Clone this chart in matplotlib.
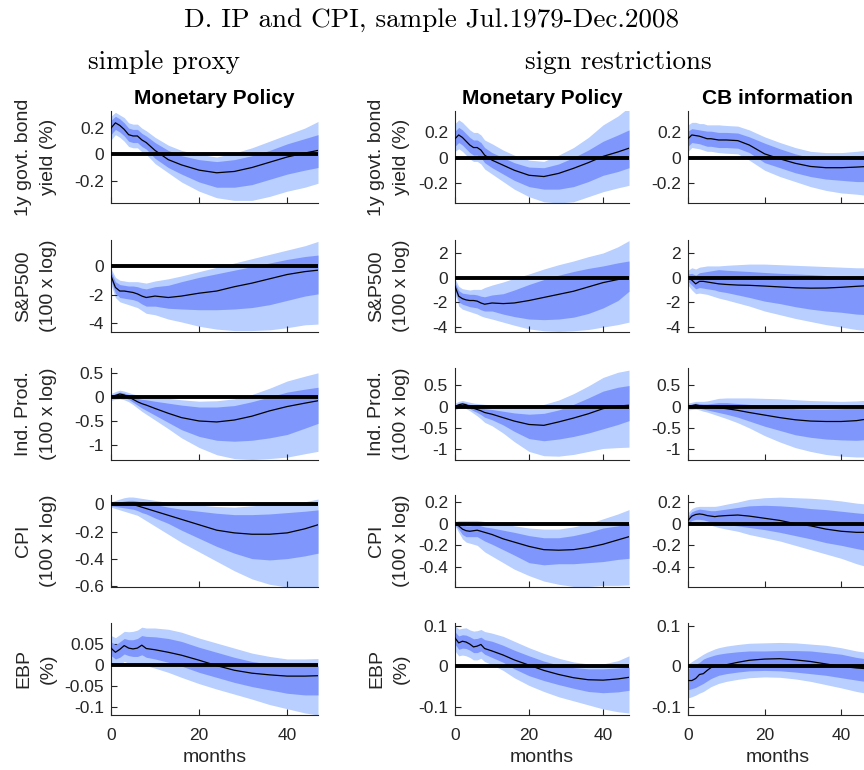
import numpy as np
import matplotlib.pyplot as plt
from matplotlib.ticker import FuncFormatter

plt.rcParams['font.family'] = ['Liberation Sans', 'DejaVu Sans']
plt.rcParams['axes.unicode_minus'] = False

months = [0, 1, 2, 3, 4, 5, 6, 7, 8, 10, 13, 16, 20, 24, 28, 32, 36, 40, 44, 47]

# ---------------- simple proxy: monetary policy ----------------
p_yld_med = [0.20, 0.24, 0.22, 0.19, 0.15, 0.14, 0.14, 0.11, 0.09, 0.03, -0.04, -0.08, -0.12, -0.14, -0.13, -0.10, -0.06, -0.02, 0.01, 0.03]
p_yld_hi68 = [0.26, 0.29, 0.27, 0.24, 0.20, 0.19, 0.19, 0.16, 0.14, 0.09, 0.03, -0.01, -0.04, -0.055, -0.04, -0.01, 0.03, 0.08, 0.12, 0.15]
p_yld_lo68 = [0.15, 0.19, 0.17, 0.14, 0.10, 0.09, 0.09, 0.06, 0.04, -0.03, -0.10, -0.15, -0.21, -0.25, -0.25, -0.23, -0.19, -0.15, -0.12, -0.10]
p_yld_hi90 = [0.29, 0.32, 0.30, 0.28, 0.24, 0.23, 0.23, 0.20, 0.18, 0.13, 0.07, 0.03, 0.0, -0.02, 0.01, 0.05, 0.10, 0.15, 0.20, 0.25]
p_yld_lo90 = [0.11, 0.15, 0.13, 0.10, 0.06, 0.05, 0.05, 0.02, 0.0, -0.07, -0.14, -0.21, -0.28, -0.33, -0.35, -0.35, -0.32, -0.28, -0.25, -0.22]

p_sp_med = [-0.7, -1.5, -1.75, -1.75, -1.8, -1.85, -1.95, -2.1, -2.2, -2.1, -2.2, -2.1, -1.9, -1.75, -1.45, -1.2, -0.9, -0.6, -0.4, -0.3]
p_sp_hi68 = [-0.4, -1.1, -1.3, -1.35, -1.4, -1.4, -1.45, -1.55, -1.6, -1.45, -1.35, -1.1, -0.8, -0.55, -0.3, -0.05, 0.2, 0.45, 0.65, 0.75]
p_sp_lo68 = [-1.0, -1.9, -2.2, -2.25, -2.3, -2.35, -2.45, -2.65, -2.8, -2.8, -2.95, -3.0, -3.05, -3.05, -3.0, -2.9, -2.7, -2.4, -2.1, -1.95]
p_sp_hi90 = [-0.2, -0.8, -1.0, -1.05, -1.1, -1.1, -1.1, -1.15, -1.2, -1.05, -0.9, -0.7, -0.4, -0.1, 0.2, 0.5, 0.8, 1.1, 1.4, 1.7]
p_sp_lo90 = [-1.3, -2.2, -2.5, -2.6, -2.7, -2.8, -2.9, -3.1, -3.3, -3.4, -3.7, -3.9, -4.2, -4.4, -4.5, -4.5, -4.45, -4.3, -4.1, -4.05]

p_ip_med = [0.0, 0.03, 0.06, 0.04, 0.0, -0.05, -0.1, -0.14, -0.17, -0.24, -0.34, -0.43, -0.50, -0.52, -0.48, -0.40, -0.29, -0.20, -0.13, -0.08]
p_ip_hi68 = [0.03, 0.07, 0.10, 0.08, 0.05, 0.01, -0.03, -0.05, -0.06, -0.09, -0.13, -0.17, -0.21, -0.21, -0.18, -0.10, 0.0, 0.10, 0.16, 0.20]
p_ip_lo68 = [-0.03, -0.01, 0.01, -0.01, -0.05, -0.11, -0.17, -0.23, -0.28, -0.38, -0.53, -0.68, -0.82, -0.90, -0.92, -0.90, -0.85, -0.78, -0.65, -0.55]
p_ip_hi90 = [0.07, 0.11, 0.14, 0.12, 0.09, 0.06, 0.04, 0.03, 0.02, 0.0, -0.03, -0.06, -0.09, -0.08, -0.04, 0.05, 0.18, 0.33, 0.43, 0.50]
p_ip_lo90 = [-0.07, -0.05, -0.04, -0.06, -0.10, -0.16, -0.23, -0.30, -0.36, -0.48, -0.66, -0.85, -1.05, -1.20, -1.28, -1.30, -1.28, -1.25, -1.18, -1.13]

p_cpi_med = [0.0, 0.0, 0.0, 0.0, 0.0, 0.0, -0.01, -0.02, -0.03, -0.05, -0.08, -0.11, -0.15, -0.19, -0.21, -0.22, -0.22, -0.21, -0.18, -0.15]
p_cpi_hi68 = [0.01, 0.015, 0.02, 0.025, 0.03, 0.03, 0.025, 0.02, 0.01, 0.0, -0.02, -0.035, -0.05, -0.065, -0.075, -0.075, -0.07, -0.06, -0.05, -0.04]
p_cpi_lo68 = [-0.01, -0.015, -0.02, -0.025, -0.03, -0.035, -0.045, -0.06, -0.07, -0.10, -0.14, -0.19, -0.25, -0.31, -0.36, -0.40, -0.41, -0.40, -0.38, -0.36]
p_cpi_hi90 = [0.02, 0.03, 0.04, 0.05, 0.055, 0.055, 0.05, 0.045, 0.04, 0.03, 0.015, 0.005, -0.005, -0.015, -0.02, -0.01, 0.0, 0.005, 0.02, 0.04]
p_cpi_lo90 = [-0.02, -0.03, -0.04, -0.05, -0.06, -0.07, -0.08, -0.10, -0.12, -0.16, -0.22, -0.28, -0.35, -0.42, -0.49, -0.55, -0.59, -0.61, -0.62, -0.62]

p_ebp_med = [0.040, 0.030, 0.037, 0.046, 0.040, 0.038, 0.040, 0.047, 0.039, 0.036, 0.030, 0.023, 0.011, -0.002, -0.013, -0.020, -0.024, -0.027, -0.027, -0.026]
p_ebp_hi68 = [0.055, 0.048, 0.055, 0.063, 0.060, 0.060, 0.063, 0.070, 0.068, 0.067, 0.063, 0.056, 0.042, 0.030, 0.018, 0.008, 0.002, -0.002, -0.003, -0.003]
p_ebp_lo68 = [0.022, 0.014, 0.018, 0.026, 0.022, 0.020, 0.020, 0.024, 0.018, 0.014, 0.006, -0.003, -0.018, -0.030, -0.042, -0.052, -0.060, -0.068, -0.072, -0.072]
p_ebp_hi90 = [0.070, 0.065, 0.072, 0.080, 0.079, 0.080, 0.083, 0.090, 0.088, 0.088, 0.085, 0.078, 0.064, 0.052, 0.040, 0.028, 0.020, 0.014, 0.014, 0.015]
p_ebp_lo90 = [0.005, -0.003, 0.000, 0.008, 0.004, 0.002, 0.000, 0.004, -0.002, -0.008, -0.018, -0.030, -0.045, -0.058, -0.070, -0.082, -0.095, -0.105, -0.115, -0.120]

# ---------------- sign restrictions: monetary policy ----------------
m_yld_med = [0.15, 0.18, 0.16, 0.13, 0.10, 0.08, 0.08, 0.06, 0.02, -0.02, -0.06, -0.10, -0.14, -0.15, -0.125, -0.085, -0.04, 0.01, 0.045, 0.075]
m_yld_hi68 = [0.21, 0.24, 0.22, 0.19, 0.16, 0.14, 0.14, 0.12, 0.08, 0.04, 0.0, -0.04, -0.075, -0.08, -0.05, 0.0, 0.06, 0.13, 0.18, 0.22]
m_yld_lo68 = [0.09, 0.12, 0.10, 0.07, 0.04, 0.02, 0.02, 0.0, -0.04, -0.08, -0.13, -0.18, -0.23, -0.25, -0.25, -0.23, -0.19, -0.14, -0.11, -0.08]
m_yld_hi90 = [0.27, 0.30, 0.28, 0.25, 0.22, 0.20, 0.20, 0.18, 0.14, 0.11, 0.06, 0.02, -0.02, -0.03, 0.02, 0.08, 0.16, 0.26, 0.33, 0.40]
m_yld_lo90 = [0.05, 0.07, 0.05, 0.02, -0.01, -0.03, -0.03, -0.05, -0.09, -0.13, -0.19, -0.25, -0.31, -0.35, -0.36, -0.35, -0.31, -0.27, -0.24, -0.22]

m_sp_med = [-0.7, -1.5, -1.7, -1.8, -1.85, -1.85, -1.9, -2.05, -2.15, -2.05, -2.1, -2.05, -1.85, -1.6, -1.35, -1.1, -0.75, -0.4, -0.15, 0.0]
m_sp_hi68 = [-0.4, -1.05, -1.25, -1.3, -1.35, -1.35, -1.4, -1.5, -1.55, -1.4, -1.3, -1.0, -0.55, -0.15, 0.2, 0.5, 0.75, 0.95, 1.2, 1.35]
m_sp_lo68 = [-1.0, -1.95, -2.15, -2.25, -2.35, -2.4, -2.45, -2.6, -2.7, -2.7, -2.95, -3.15, -3.35, -3.4, -3.35, -3.2, -2.9, -2.45, -1.85, -1.1]
m_sp_hi90 = [-0.1, -0.7, -0.9, -0.95, -1.0, -0.95, -0.95, -0.95, -0.8, -0.6, -0.35, -0.05, 0.3, 0.7, 1.05, 1.35, 1.7, 2.0, 2.5, 3.0]
m_sp_lo90 = [-1.3, -2.3, -2.55, -2.65, -2.75, -2.85, -2.95, -3.1, -3.2, -3.35, -3.6, -3.85, -4.15, -4.3, -4.35, -4.3, -4.2, -4.0, -3.8, -3.6]

m_ip_med = [0.0, 0.04, 0.06, 0.04, 0.0, -0.04, -0.07, -0.10, -0.14, -0.18, -0.26, -0.34, -0.42, -0.44, -0.36, -0.27, -0.17, -0.05, 0.01, 0.03]
m_ip_hi68 = [0.04, 0.08, 0.10, 0.08, 0.05, 0.02, -0.01, -0.03, -0.05, -0.07, -0.11, -0.15, -0.18, -0.16, -0.08, 0.05, 0.20, 0.36, 0.45, 0.49]
m_ip_lo68 = [-0.04, 0.0, 0.02, 0.0, -0.05, -0.10, -0.14, -0.19, -0.25, -0.31, -0.43, -0.58, -0.75, -0.80, -0.76, -0.70, -0.62, -0.52, -0.42, -0.33]
m_ip_hi90 = [0.08, 0.12, 0.14, 0.12, 0.10, 0.08, 0.07, 0.06, 0.05, 0.04, 0.03, 0.02, 0.0, 0.05, 0.15, 0.30, 0.48, 0.68, 0.80, 0.85]
m_ip_lo90 = [-0.08, -0.04, -0.02, -0.05, -0.10, -0.16, -0.22, -0.29, -0.37, -0.45, -0.62, -0.82, -1.05, -1.15, -1.16, -1.12, -1.05, -0.98, -0.96, -0.95]

m_cpi_med = [0.0, -0.02, -0.05, -0.065, -0.07, -0.065, -0.06, -0.07, -0.08, -0.10, -0.14, -0.17, -0.21, -0.24, -0.245, -0.24, -0.22, -0.19, -0.15, -0.12]
m_cpi_hi68 = [0.01, 0.0, -0.01, -0.02, -0.02, -0.015, -0.01, -0.02, -0.03, -0.04, -0.06, -0.08, -0.11, -0.13, -0.13, -0.11, -0.08, -0.04, -0.02, 0.0]
m_cpi_lo68 = [-0.01, -0.05, -0.10, -0.12, -0.12, -0.12, -0.12, -0.14, -0.16, -0.19, -0.24, -0.29, -0.36, -0.38, -0.37, -0.37, -0.36, -0.35, -0.33, -0.32]
m_cpi_hi90 = [0.02, 0.03, 0.03, 0.03, 0.03, 0.03, 0.03, 0.025, 0.02, 0.015, 0.0, -0.02, -0.04, -0.05, -0.05, -0.03, 0.0, 0.045, 0.09, 0.13]
m_cpi_lo90 = [-0.02, -0.08, -0.14, -0.17, -0.18, -0.19, -0.20, -0.23, -0.26, -0.30, -0.36, -0.42, -0.48, -0.53, -0.56, -0.58, -0.58, -0.57, -0.57, -0.565]

m_ebp_med = [0.070, 0.058, 0.062, 0.060, 0.055, 0.048, 0.050, 0.054, 0.044, 0.038, 0.028, 0.016, 0.003, -0.010, -0.020, -0.028, -0.033, -0.034, -0.031, -0.027]
m_ebp_hi68 = [0.085, 0.075, 0.078, 0.077, 0.073, 0.068, 0.069, 0.072, 0.066, 0.062, 0.052, 0.040, 0.026, 0.013, 0.003, -0.003, -0.006, -0.006, -0.004, -0.002]
m_ebp_lo68 = [0.055, 0.042, 0.045, 0.044, 0.040, 0.034, 0.034, 0.038, 0.030, 0.022, 0.010, -0.006, -0.023, -0.035, -0.045, -0.054, -0.062, -0.065, -0.063, -0.059]
m_ebp_hi90 = [0.100, 0.092, 0.094, 0.095, 0.090, 0.087, 0.088, 0.091, 0.086, 0.082, 0.074, 0.062, 0.046, 0.032, 0.020, 0.011, 0.006, 0.006, 0.014, 0.026]
m_ebp_lo90 = [0.038, 0.026, 0.028, 0.026, 0.022, 0.016, 0.016, 0.020, 0.012, 0.004, -0.010, -0.028, -0.047, -0.062, -0.075, -0.085, -0.095, -0.105, -0.112, -0.115]

# ---------------- sign restrictions: CB information ----------------
c_yld_med = [0.15, 0.18, 0.175, 0.17, 0.16, 0.15, 0.15, 0.145, 0.14, 0.14, 0.135, 0.10, 0.03, -0.01, -0.045, -0.07, -0.08, -0.08, -0.075, -0.07]
c_yld_hi68 = [0.21, 0.23, 0.225, 0.22, 0.215, 0.21, 0.21, 0.205, 0.20, 0.20, 0.195, 0.165, 0.115, 0.07, 0.03, 0.0, -0.01, -0.005, 0.01, 0.015]
c_yld_lo68 = [0.09, 0.12, 0.115, 0.11, 0.10, 0.09, 0.09, 0.085, 0.08, 0.08, 0.075, 0.04, -0.04, -0.08, -0.12, -0.15, -0.17, -0.18, -0.19, -0.19]
c_yld_hi90 = [0.26, 0.28, 0.28, 0.27, 0.27, 0.26, 0.26, 0.26, 0.26, 0.255, 0.25, 0.22, 0.165, 0.12, 0.08, 0.05, 0.04, 0.04, 0.05, 0.06]
c_yld_lo90 = [0.05, 0.08, 0.075, 0.07, 0.06, 0.05, 0.05, 0.045, 0.04, 0.035, 0.03, -0.02, -0.10, -0.15, -0.19, -0.23, -0.26, -0.28, -0.29, -0.30]

c_sp_med = [0.0, -0.2, -0.5, -0.3, -0.3, -0.35, -0.4, -0.45, -0.5, -0.55, -0.6, -0.62, -0.68, -0.75, -0.82, -0.85, -0.84, -0.78, -0.7, -0.65]
c_sp_hi68 = [0.3, 0.35, 0.2, 0.4, 0.45, 0.5, 0.55, 0.6, 0.65, 0.6, 0.55, 0.5, 0.42, 0.35, 0.3, 0.25, 0.18, 0.1, 0.03, 0.0]
c_sp_lo68 = [-0.3, -0.6, -0.9, -0.8, -0.85, -0.9, -0.95, -1.0, -1.1, -1.2, -1.4, -1.6, -1.9, -2.1, -2.35, -2.55, -2.7, -2.8, -2.95, -3.0]
c_sp_hi90 = [0.6, 0.8, 0.7, 0.85, 0.9, 0.95, 0.95, 0.95, 0.95, 1.0, 1.05, 1.1, 1.1, 1.05, 1.0, 0.95, 0.9, 0.85, 0.8, 0.8]
c_sp_lo90 = [-0.6, -1.0, -1.3, -1.25, -1.3, -1.35, -1.45, -1.55, -1.65, -1.8, -2.05, -2.3, -2.7, -3.0, -3.3, -3.55, -3.8, -4.0, -4.2, -4.3]

c_ip_med = [0.0, 0.02, 0.04, 0.02, 0.0, -0.01, -0.02, -0.02, -0.03, -0.05, -0.09, -0.14, -0.20, -0.26, -0.31, -0.34, -0.35, -0.35, -0.33, -0.29]
c_ip_hi68 = [0.04, 0.06, 0.08, 0.07, 0.06, 0.06, 0.07, 0.08, 0.09, 0.09, 0.07, 0.05, 0.015, -0.02, -0.05, -0.06, -0.06, -0.05, -0.03, -0.02]
c_ip_lo68 = [-0.04, -0.03, -0.02, -0.04, -0.06, -0.08, -0.10, -0.12, -0.14, -0.18, -0.25, -0.34, -0.46, -0.56, -0.66, -0.72, -0.76, -0.78, -0.79, -0.77]
c_ip_hi90 = [0.08, 0.10, 0.12, 0.12, 0.12, 0.13, 0.15, 0.17, 0.19, 0.20, 0.20, 0.20, 0.19, 0.18, 0.16, 0.14, 0.13, 0.12, 0.13, 0.15]
c_ip_lo90 = [-0.08, -0.07, -0.06, -0.08, -0.11, -0.13, -0.16, -0.19, -0.22, -0.28, -0.38, -0.50, -0.68, -0.83, -0.96, -1.05, -1.12, -1.16, -1.18, -1.18]

c_cpi_med = [0.03, 0.07, 0.085, 0.09, 0.085, 0.075, 0.07, 0.065, 0.07, 0.075, 0.08, 0.07, 0.05, 0.03, 0.0, -0.02, -0.05, -0.07, -0.08, -0.08]
c_cpi_hi68 = [0.07, 0.11, 0.125, 0.135, 0.13, 0.125, 0.12, 0.12, 0.125, 0.135, 0.15, 0.165, 0.17, 0.165, 0.155, 0.14, 0.13, 0.115, 0.10, 0.09]
c_cpi_lo68 = [0.0, 0.03, 0.04, 0.04, 0.035, 0.025, 0.015, 0.005, 0.0, -0.01, -0.02, -0.035, -0.055, -0.08, -0.11, -0.14, -0.175, -0.20, -0.23, -0.25]
c_cpi_hi90 = [0.10, 0.14, 0.155, 0.16, 0.16, 0.16, 0.16, 0.16, 0.165, 0.18, 0.20, 0.225, 0.24, 0.245, 0.24, 0.235, 0.225, 0.21, 0.19, 0.18]
c_cpi_lo90 = [0.01, 0.01, 0.01, 0.01, 0.005, -0.005, -0.015, -0.025, -0.035, -0.05, -0.07, -0.10, -0.13, -0.16, -0.20, -0.24, -0.28, -0.32, -0.37, -0.40]

c_ebp_med = [-0.035, -0.035, -0.03, -0.02, -0.018, -0.01, -0.003, 0.0, 0.002, 0.004, 0.01, 0.015, 0.018, 0.019, 0.016, 0.012, 0.006, 0.0, -0.004, -0.006]
c_ebp_hi68 = [-0.006, 0.0, 0.005, 0.01, 0.018, 0.022, 0.025, 0.028, 0.03, 0.033, 0.036, 0.038, 0.038, 0.039, 0.039, 0.038, 0.034, 0.03, 0.022, 0.018]
c_ebp_lo68 = [-0.058, -0.055, -0.052, -0.047, -0.042, -0.036, -0.03, -0.026, -0.022, -0.018, -0.014, -0.011, -0.01, -0.011, -0.014, -0.018, -0.022, -0.028, -0.034, -0.038]
c_ebp_hi90 = [0.006, 0.012, 0.018, 0.024, 0.03, 0.035, 0.039, 0.043, 0.046, 0.05, 0.054, 0.057, 0.058, 0.059, 0.058, 0.055, 0.052, 0.046, 0.038, 0.034]
c_ebp_lo90 = [-0.078, -0.075, -0.071, -0.066, -0.062, -0.056, -0.05, -0.046, -0.042, -0.037, -0.032, -0.028, -0.026, -0.027, -0.031, -0.037, -0.045, -0.053, -0.062, -0.067]

col_titles = ['Monetary Policy', 'Monetary Policy', 'CB information']
row_labels = ['1y govt. bond\nyield (%)', 'S&P500\n(100 x log)', 'Ind. Prod.\n(100 x log)',
              'CPI\n(100 x log)', 'EBP\n(%)']

# y-limits / ticks: simple proxy column, then the two sign-restriction columns
proxy_ylim = [(-0.37, 0.33), (-4.6, 1.8), (-1.31, 0.6), (-0.61, 0.07), (-0.12, 0.10)]
proxy_yticks = [[-0.2, 0, 0.2], [-4, -2, 0], [-1, -0.5, 0, 0.5], [-0.6, -0.4, -0.2, 0], [-0.1, -0.05, 0, 0.05]]
sign_ylim = [(-0.36, 0.37), (-4.4, 3.05), (-1.25, 0.9), (-0.585, 0.265), (-0.12, 0.107)]
sign_yticks = [[-0.2, 0, 0.2], [-4, -2, 0, 2], [-1, -0.5, 0, 0.5], [-0.4, -0.2, 0, 0.2], [-0.1, 0, 0.1]]

panels = [
    [(p_yld_med, p_yld_lo68, p_yld_hi68, p_yld_lo90, p_yld_hi90),
     (m_yld_med, m_yld_lo68, m_yld_hi68, m_yld_lo90, m_yld_hi90),
     (c_yld_med, c_yld_lo68, c_yld_hi68, c_yld_lo90, c_yld_hi90)],
    [(p_sp_med, p_sp_lo68, p_sp_hi68, p_sp_lo90, p_sp_hi90),
     (m_sp_med, m_sp_lo68, m_sp_hi68, m_sp_lo90, m_sp_hi90),
     (c_sp_med, c_sp_lo68, c_sp_hi68, c_sp_lo90, c_sp_hi90)],
    [(p_ip_med, p_ip_lo68, p_ip_hi68, p_ip_lo90, p_ip_hi90),
     (m_ip_med, m_ip_lo68, m_ip_hi68, m_ip_lo90, m_ip_hi90),
     (c_ip_med, c_ip_lo68, c_ip_hi68, c_ip_lo90, c_ip_hi90)],
    [(p_cpi_med, p_cpi_lo68, p_cpi_hi68, p_cpi_lo90, p_cpi_hi90),
     (m_cpi_med, m_cpi_lo68, m_cpi_hi68, m_cpi_lo90, m_cpi_hi90),
     (c_cpi_med, c_cpi_lo68, c_cpi_hi68, c_cpi_lo90, c_cpi_hi90)],
    [(p_ebp_med, p_ebp_lo68, p_ebp_hi68, p_ebp_lo90, p_ebp_hi90),
     (m_ebp_med, m_ebp_lo68, m_ebp_hi68, m_ebp_lo90, m_ebp_hi90),
     (c_ebp_med, c_ebp_lo68, c_ebp_hi68, c_ebp_lo90, c_ebp_hi90)],
]

W, H = 864, 770
fig = plt.figure(figsize=(W / 100, H / 100), dpi=100)

# panel geometry in pixels (third column runs off the right edge, as in the original)
col_left = [111, 455, 688]
col_width = [207, 174, 180]
row_top = [111, 240, 368, 495, 623]
row_h = 92
ylab_x = [36, 389]

light = '#b8cfff'
dark = '#7f97fc'
axcol = '#262626'
fmt = FuncFormatter(lambda v, p: f'{v:g}')

for r in range(5):
    for c in range(3):
        ax = fig.add_axes([col_left[c] / W, 1 - (row_top[r] + row_h) / H,
                           col_width[c] / W, row_h / H])
        med, lo68, hi68, lo90, hi90 = panels[r][c]
        ax.fill_between(months, lo90, hi90, color=light, lw=0, zorder=1)
        ax.fill_between(months, lo68, hi68, color=dark, lw=0, zorder=2)
        ax.axhline(0, color='k', lw=2.8, zorder=3)
        ax.plot(months, med, color='k', lw=0.9, zorder=4)

        ax.set_xlim(0, 47)
        ax.set_xticks([0, 20, 40])
        if c == 0:
            ax.set_ylim(*proxy_ylim[r])
            ax.set_yticks(proxy_yticks[r])
        else:
            ax.set_ylim(*sign_ylim[r])
            ax.set_yticks(sign_yticks[r])
        ax.yaxis.set_major_formatter(fmt)
        for s in ['top', 'right']:
            ax.spines[s].set_visible(False)
        for s in ['left', 'bottom']:
            ax.spines[s].set_color(axcol)
            ax.spines[s].set_linewidth(0.8)
        ax.tick_params(direction='in', length=4, width=0.8, colors=axcol,
                       labelsize=12.5, pad=5)
        ax.tick_params(axis='x', pad=9)
        if r < 4:
            ax.tick_params(axis='x', labelbottom=False)
        else:
            ax.set_xlabel('months', fontsize=14, color=axcol, labelpad=5)
        if r == 0:
            ax.set_title(col_titles[c], fontsize=15, fontweight='bold', pad=5)
        if c < 2:
            fig.text(ylab_x[c] / W, 1 - (row_top[r] + row_h / 2) / H, row_labels[r],
                     rotation=90, ha='center', va='center', multialignment='center',
                     fontsize=14, color=axcol, linespacing=1.55)

fig.text(432 / W, 1 - 20 / H, 'D. IP and CPI, sample Jul.1979-Dec.2008',
         family='cmr10', fontsize=19.5, ha='center', va='center')
fig.text(164 / W, 1 - 62 / H, 'simple proxy', family='cmr10', fontsize=19.5,
         ha='center', va='center')
fig.text(618 / W, 1 - 62 / H, 'sign restrictions', family='cmr10', fontsize=19.5,
         ha='center', va='center')

fig.savefig('out.png', dpi=100)
